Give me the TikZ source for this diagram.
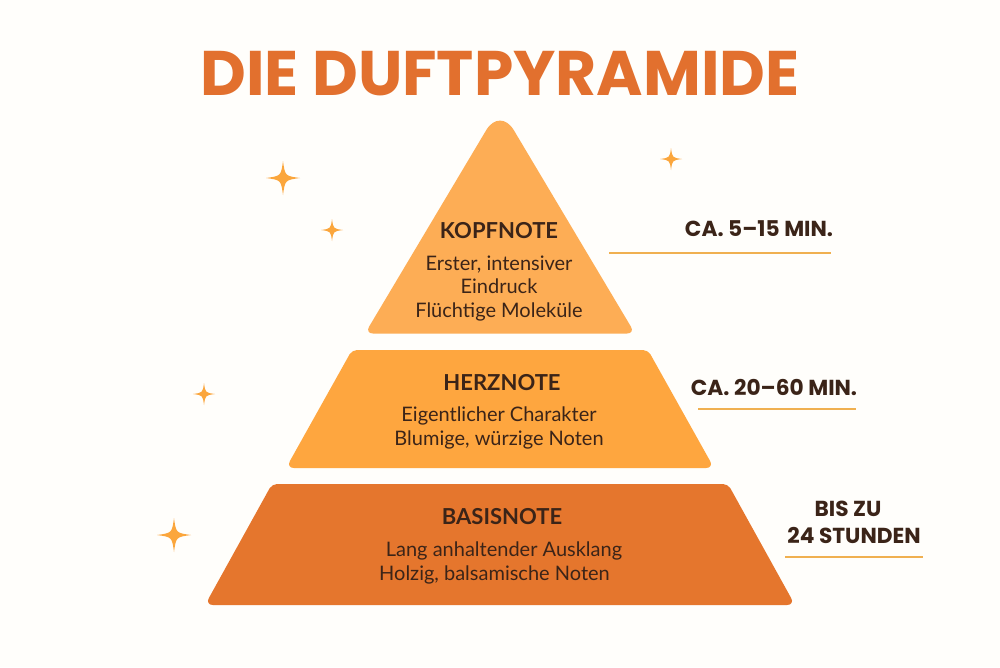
\documentclass[tikz,border=0pt]{standalone}
\usepackage{fontspec}
\setmainfont{Lato}
\newfontfamily\timefont{Poppins}
\usepackage{tikz}
\definecolor{paper}{HTML}{FFFEFB}
\definecolor{kopfcol}{HTML}{FDAD55}
\definecolor{herzcol}{HTML}{FEA63F}
\definecolor{basiscol}{HTML}{E5762D}
\definecolor{inkcol}{HTML}{3B2418}
\definecolor{rulecol}{HTML}{F0B050}
\definecolor{starcol}{HTML}{FBA63C}
\definecolor{titlecol}{HTML}{E2702E}
\tikzset{
  layer/.style={rounded corners=8pt, draw=none},
  notehead/.style={text=inkcol, font=\fontsize{22}{24}\selectfont\bfseries},
  notetext/.style={text=inkcol, align=center, font=\fontsize{20}{23.5}\selectfont},
  timetext/.style={text=inkcol, align=center, font=\fontsize{21.7}{27}\selectfont\timefont\bfseries},
  timerule/.style={draw=rulecol, line width=2pt},
}
\newcommand{\sparkle}[3]{%
  \fill[starcol] (#1,#2-#3) .. controls (#1+0.12*#3,#2-0.12*#3) .. (#1+#3,#2)
    .. controls (#1+0.12*#3,#2+0.12*#3) .. (#1,#2+#3)
    .. controls (#1-0.12*#3,#2+0.12*#3) .. (#1-#3,#2)
    .. controls (#1-0.12*#3,#2-0.12*#3) .. (#1,#2-#3) -- cycle;
}

\begin{document}
\begin{tikzpicture}[x=1pt,y=-1pt]

\fill[paper] (0,0) rectangle (1000,667);
\useasboundingbox (0,0) rectangle (1000,667);

\node[text=titlecol, font=\fontsize{63}{70}\selectfont\timefont\bfseries] (title) at (500,74) {DIE DUFTPYRAMIDE};

% the three layers
\fill[layer, kopfcol] (365,333.5) [rounded corners=27pt] -- (500,107) [rounded corners=8pt] -- (635,333.5) -- cycle;
\fill[layer, herzcol] (286,468) [rounded corners=5pt] -- (352,350) -- (648,350) [rounded corners=8pt] -- (714,468) -- cycle;
\fill[layer, basiscol] (205,605) [rounded corners=5pt] -- (272,484) -- (728,484) [rounded corners=8pt] -- (795,605) -- cycle;

\node[notehead] (kopf) at (499,231) {KOPFNOTE};
\node[notetext] (kopftext) at (499,288.5) {Erster, intensiver\\Eindruck\\Flüchtige Moleküle};

\node[notehead] (herz) at (502,383) {HERZNOTE};
\node[notetext] (herztext) at (499,428) {Eigentlicher Charakter\\Blumige, würzige Noten};

\node[notehead] (basis) at (502,517) {BASISNOTE};
\node[notetext] (basistext) at (498,563) {\hspace*{12pt}Lang anhaltender Ausklang\\Holzig, balsamische Noten\hspace*{7pt}};

% times on the right
\node[timetext] (kopftime) at (759,229) {CA. 5–15 MIN.};
\coordinate (kopfa) at (609,253);
\coordinate (kopfb) at (831,253);
\draw[timerule] (kopfa) -- (kopfb);

\node[timetext] (herztime) at (774,387) {CA. 20–60 MIN.};
\coordinate (herza) at (698,409);
\coordinate (herzb) at (856,409);
\draw[timerule] (herza) -- (herzb);

\node[timetext] (basistime) at (854,522) {\hspace*{-12pt}BIS ZU\\24 STUNDEN};
\coordinate (basisa) at (785,557);
\coordinate (basisb) at (923,557);
\draw[timerule] (basisa) -- (basisb);

% sparkles
\foreach \sx/\sy/\sr in {283/178/17, 332/230/11, 671/159/11, 204/394/11, 174/535/17} {
  \sparkle{\sx}{\sy}{\sr}
}

\end{tikzpicture}
\end{document}
